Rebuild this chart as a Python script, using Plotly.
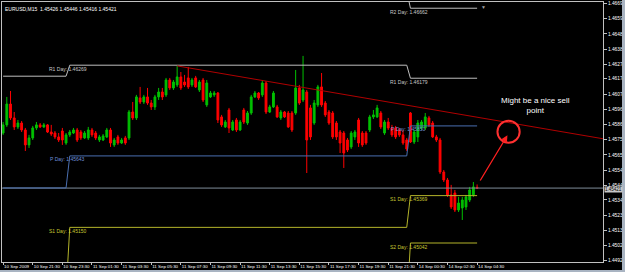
import plotly.graph_objects as go

# ---------------- data (EURUSD M15) ----------------
open_ = [1.45801,1.45857,1.46001,1.45905,1.45843,1.45870,1.45822,1.45719,1.45767,1.45836,
         1.45857,1.45843,1.45857,1.45808,1.45801,1.45774,1.45815,1.45732,1.45788,1.45801,
         1.45822,1.45808,1.45767,1.45767,1.45822,1.45801,1.45753,1.45753,1.45774,1.45822,
         1.45719,1.45774,1.45732,1.45767,1.45767,1.45946,1.45905,1.46043,1.46015,1.46050,
         1.46008,1.45981,1.46050,1.46084,1.46064,1.46167,1.46112,1.46133,1.46188,1.46153,
         1.46181,1.46133,1.46181,1.46098,1.46167,1.45995,1.46050,1.46064,1.46077,1.45912,
         1.45843,1.45960,1.45822,1.45891,1.45822,1.45960,1.45870,1.45939,1.46050,1.46077,
         1.46064,1.46146,1.45946,1.45981,1.45981,1.45905,1.45946,1.45939,1.45939,1.45939,
         1.46112,1.46029,1.46084,1.45974,1.45870,1.45995,1.46119,1.46008,1.45946,1.45939,
         1.45870,1.45808,1.45801,1.45753,1.45705,1.45774,1.45891,1.45801,1.45801,1.45822,
         1.45912,1.45912,1.45939,1.45801,1.45877,1.45836,1.45836,1.45822,1.45788,1.45753,
         1.45939,1.45739,1.45774,1.45836,1.45836,1.45905,1.45870,1.45774,1.45753,1.45532,
         1.45477,1.45374,1.45387,1.45270,1.45284,1.45291,1.45339,1.45374,1.45426]
high = [1.45877,1.46050,1.46091,1.45946,1.45891,1.45884,1.45836,1.45788,1.45850,1.45877,
        1.45870,1.45870,1.45863,1.45857,1.45815,1.45801,1.45836,1.45801,1.45822,1.45836,
        1.45836,1.45822,1.45815,1.45843,1.45836,1.45815,1.45788,1.45794,1.45836,1.45836,
        1.45767,1.45788,1.45767,1.45781,1.45960,1.46015,1.46064,1.46119,1.46064,1.46112,
        1.46029,1.46064,1.46112,1.46112,1.46181,1.46181,1.46167,1.46264,1.46222,1.46202,
        1.46257,1.46181,1.46195,1.46167,1.46181,1.46167,1.46091,1.46091,1.46084,1.45926,
        1.45891,1.45974,1.45891,1.45905,1.45891,1.45974,1.45953,1.46064,1.46091,1.46084,
        1.46167,1.46160,1.45995,1.46091,1.45995,1.45960,1.45953,1.45953,1.45953,1.46236,
        1.46133,1.46333,1.46098,1.45995,1.46029,1.46133,1.46215,1.46022,1.45960,1.45953,
        1.45884,1.45822,1.45815,1.45767,1.45815,1.45822,1.45905,1.45815,1.45815,1.45926,
        1.45960,1.45995,1.45953,1.45891,1.45905,1.45857,1.45850,1.45836,1.45822,1.45767,
        1.45946,1.45822,1.45891,1.45891,1.45939,1.45919,1.45884,1.45788,1.45767,1.45546,
        1.45491,1.45443,1.45408,1.45360,1.45360,1.45374,1.45429,1.45463,1.45446]
low = [1.45788,1.45843,1.45891,1.45822,1.45829,1.45808,1.45677,1.45698,1.45753,1.45822,
       1.45836,1.45836,1.45801,1.45781,1.45760,1.45739,1.45719,1.45719,1.45774,1.45794,
       1.45739,1.45753,1.45760,1.45753,1.45774,1.45753,1.45739,1.45746,1.45767,1.45705,
       1.45705,1.45719,1.45725,1.45719,1.45753,1.45891,1.45891,1.46001,1.46001,1.45995,
       1.45960,1.45960,1.46029,1.46029,1.46050,1.46098,1.46098,1.46119,1.46098,1.46119,
       1.46105,1.46119,1.46112,1.46084,1.46015,1.45981,1.46043,1.46050,1.45870,1.45843,
       1.45836,1.45801,1.45815,1.45808,1.45815,1.45863,1.45857,1.45926,1.46043,1.46029,
       1.46050,1.45932,1.45939,1.45974,1.45905,1.45891,1.45905,1.45836,1.45808,1.45926,
       1.45995,1.46015,1.45525,1.45753,1.45857,1.45981,1.45981,1.45912,1.45857,1.45760,
       1.45753,1.45663,1.45560,1.45670,1.45691,1.45753,1.45705,1.45705,1.45719,1.45808,
       1.45898,1.45905,1.45829,1.45788,1.45822,1.45774,1.45760,1.45774,1.45719,1.45677,
       1.45732,1.45725,1.45739,1.45822,1.45822,1.45843,1.45767,1.45739,1.45518,1.45463,
       1.45360,1.45277,1.45256,1.45256,1.45201,1.45270,1.45325,1.45360,1.45416]
close = [1.45857,1.46001,1.45905,1.45843,1.45870,1.45822,1.45719,1.45767,1.45836,1.45857,
         1.45843,1.45857,1.45808,1.45794,1.45774,1.45753,1.45753,1.45788,1.45808,1.45822,
         1.45753,1.45767,1.45801,1.45822,1.45788,1.45767,1.45774,1.45781,1.45822,1.45732,
         1.45753,1.45732,1.45753,1.45732,1.45946,1.45905,1.46050,1.46015,1.46050,1.46008,
         1.45981,1.46050,1.46084,1.46050,1.46167,1.46112,1.46153,1.46188,1.46112,1.46133,
         1.46119,1.46167,1.46119,1.46153,1.46029,1.46146,1.46077,1.46077,1.45891,1.45857,
         1.45877,1.45836,1.45877,1.45822,1.45877,1.45877,1.45939,1.46050,1.46077,1.46043,
         1.46146,1.45946,1.45981,1.46077,1.45912,1.45946,1.45912,1.45843,1.45822,1.46112,
         1.46008,1.46098,1.45753,1.45774,1.46008,1.46119,1.45995,1.45926,1.45870,1.45774,
         1.45774,1.45732,1.45663,1.45684,1.45801,1.45808,1.45732,1.45719,1.45732,1.45912,
         1.45926,1.45974,1.45843,1.45877,1.45836,1.45788,1.45774,1.45788,1.45732,1.45691,
         1.45739,1.45808,1.45870,1.45877,1.45912,1.45857,1.45774,1.45753,1.45532,1.45477,
         1.45374,1.45291,1.45270,1.45318,1.45339,1.45360,1.45408,1.45429,1.45421]
bars = list(range(len(close)))

time_tick_bars = [0, 8, 16, 24, 32, 40, 48, 56, 64, 72, 80, 88, 96, 104, 112, 120, 128]
time_tick_labels = ["10 Sep 2009", "10 Sep 21:30", "10 Sep 23:30", "11 Sep 01:30", "11 Sep 03:30",
                    "11 Sep 05:30", "11 Sep 07:30", "11 Sep 09:30", "11 Sep 11:30", "11 Sep 13:30",
                    "11 Sep 15:30", "11 Sep 17:30", "11 Sep 19:30", "11 Sep 21:30", "14 Sep 00:30",
                    "14 Sep 02:30", "14 Sep 04:30"]
price_ticks = [1.46695, 1.46590, 1.46485, 1.46380, 1.46275, 1.46175, 1.46070, 1.45965, 1.45860,
               1.45755, 1.45650, 1.45545, 1.45440, 1.45340, 1.45235, 1.45130, 1.45025, 1.44920]

# daily pivots: first bar of each day and the level for that day
day_start = [0, 18, 110]
pivot_names = ["R2", "R1", "P", "S1", "S2"]
pivot_r2 = [1.46900, 1.46780, 1.46662]
pivot_r1 = [1.46193, 1.46269, 1.46179]
pivot_p = [1.45422, 1.45643, 1.45850]
pivot_s1 = [1.44700, 1.45150, 1.45369]
pivot_s2 = [1.44300, 1.44600, 1.45042]

# hand-drawn trend line (bar, price) and the note
trend_bars = [47, 128]
trend_prices = [1.46264, 1.45910]
note_text = "Might be a nice sell<br>point"

symbol = "EURUSD,M15"

# ---------------- styling ----------------
X_RANGE = [-0.3, 162.0]
Y_RANGE = [1.44911, 1.46705]
FONT = "Liberation Sans, Arial, sans-serif"
pivot_colors = {"R2": "#BEBEBE", "R1": "#BEBEBE", "P": "#4A6FB0", "S1": "#B4B42A", "S2": "#B4B42A"}
label_colors = {"R2": "#C8C8C8", "R1": "#C8C8C8", "P": "#6F8FD8", "S1": "#C8C832", "S2": "#C8C832"}
pivots = {"R2": pivot_r2, "R1": pivot_r1, "P": pivot_p, "S1": pivot_s1, "S2": pivot_s2}

fig = go.Figure()

# bid line
fig.add_trace(go.Scatter(x=X_RANGE, y=[close[-1], close[-1]], mode="lines",
                         line=dict(color="#7F8C99", width=1), hoverinfo="skip", showlegend=False))

# pivot step lines (one value per bar, joined day to day)
for name in pivot_names:
    levels = pivots[name]
    ys = []
    for b in bars:
        d = max(i for i, s in enumerate(day_start) if s <= b)
        ys.append(levels[d])
    fig.add_trace(go.Scatter(x=bars, y=ys, mode="lines",
                             line=dict(color=pivot_colors[name], width=1),
                             hoverinfo="skip", showlegend=False))

# trend line as a ray to the right edge
slope = (trend_prices[1] - trend_prices[0]) / (trend_bars[1] - trend_bars[0])
ray_end = X_RANGE[1]
fig.add_trace(go.Scatter(x=[trend_bars[0], ray_end],
                         y=[trend_prices[0], trend_prices[0] + slope * (ray_end - trend_bars[0])],
                         mode="lines", line=dict(color="#B00000", width=1),
                         hoverinfo="skip", showlegend=False))

# candles
fig.add_trace(go.Candlestick(
    x=bars, open=open_, high=high, low=low, close=close,
    increasing=dict(line=dict(color="#00C000", width=1), fillcolor="#00C000"),
    decreasing=dict(line=dict(color="#FF0000", width=1), fillcolor="#FF0000"),
    whiskerwidth=0, showlegend=False, hoverinfo="skip"))

annotations = []
# pivot labels at the day changes
for d in range(1, len(day_start)):
    for name in pivot_names:
        v = pivots[name][d]
        if Y_RANGE[0] < v < Y_RANGE[1]:
            annotations.append(dict(
                x=day_start[d] - 0.5, y=v, xref="x", yref="y", showarrow=False,
                text=f"{name} Day: {v:.5f}", xanchor="center", yanchor="middle", yshift=-3.5,
                font=dict(family=FONT, size=5, color=label_colors[name])))

# header
annotations.append(dict(
    x=0, y=1, xref="paper", yref="paper", xanchor="left", yanchor="top", xshift=1, yshift=-2,
    showarrow=False,
    text=f"{symbol}  {open_[-1]:.5f} {high[-1]:.5f} {low[-1]:.5f} {close[-1]:.5f}",
    font=dict(family=FONT, size=5, color="#FFFFFF")))

# bid price box on the axis
annotations.append(dict(
    x=1, y=close[-1], xref="paper", yref="y", xanchor="left", yanchor="middle", xshift=1,
    yshift=-1.5, showarrow=False, text=f"{close[-1]:.5f}", bgcolor="#C8C8C8",
    borderpad=0, font=dict(family=FONT, size=4.5, color="#000000")))

# note
annotations.append(dict(
    x=143.7, y=1.45990, xref="x", yref="y", showarrow=False, text=note_text,
    font=dict(family=FONT, size=8, color="#FFFFFF"), align="center"))

# arrow towards the circle
annotations.append(dict(
    x=136.2, y=1.45785, ax=128.6, ay=1.45463, xref="x", yref="y", axref="x", ayref="y",
    showarrow=True, arrowhead=2, arrowsize=1, arrowwidth=1.3, arrowcolor="#FF2020", text=""))

# shift marker
annotations.append(dict(
    x=129.6, y=1, xref="x", yref="paper", yanchor="top", showarrow=False, text="▼",
    font=dict(family=FONT, size=5, color="#A0A0A0")))

fig.update_layout(
    width=625, height=272, autosize=False,
    margin=dict(l=2, r=22, t=2, b=10, pad=0, autoexpand=False),
    paper_bgcolor="#000000", plot_bgcolor="#000000",
    showlegend=False, annotations=annotations,
    xaxis=dict(range=X_RANGE, showgrid=False, zeroline=False, rangeslider=dict(visible=False),
               showline=True, mirror=True, linecolor="#C0C0C0", linewidth=1,
               tickmode="array", tickvals=time_tick_bars, ticktext=time_tick_labels,
               ticks="outside", ticklen=2, tickcolor="#C0C0C0", tickangle=0,
               ticklabelposition="outside right", automargin=False,
               tickfont=dict(family=FONT, size=4.4, color="#FFFFFF")),
    yaxis=dict(range=Y_RANGE, side="right", showgrid=False, zeroline=False,
               showline=True, mirror=True, linecolor="#C0C0C0", linewidth=1,
               tickmode="array", tickvals=price_ticks,
               ticktext=[f"{v:.5f}" for v in price_ticks], automargin=False,
               ticks="outside", ticklen=3, tickcolor="#C0C0C0",
               tickfont=dict(family=FONT, size=4.8, color="#FFFFFF")),
)

# circle around the target and window chrome
fig.add_shape(type="circle", xref="x", yref="y", x0=133.5, x1=139.5, y0=1.45734, y1=1.45886,
              line=dict(color="#FF3030", width=2))
fig.add_shape(type="rect", xref="paper", yref="paper", x0=1.0316, x1=1.04, y0=-0.05, y1=1.02,
              fillcolor="#A9B4C2", line=dict(width=0), layer="above")
fig.add_shape(type="rect", xref="paper", yref="paper", x0=-0.01, x1=1.04, y0=-0.05, y1=-0.0308,
              fillcolor="#A9B4C2", line=dict(width=0), layer="above")

fig.write_html("out.html")
